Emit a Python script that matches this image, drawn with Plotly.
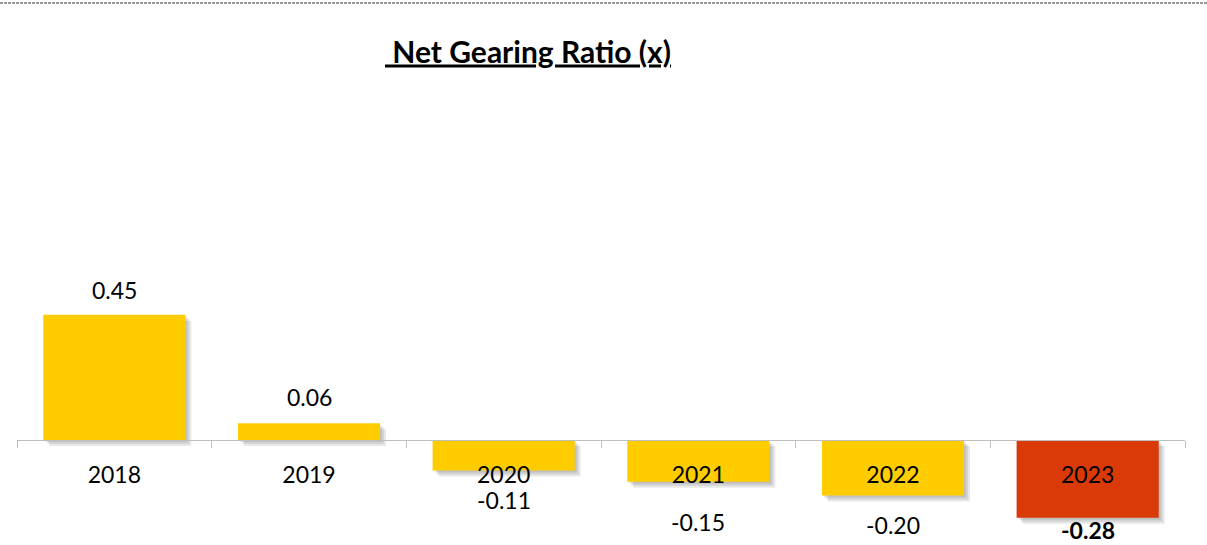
import plotly.graph_objects as go

# Net gearing ratio by year
years = ["2018", "2019", "2020", "2021", "2022", "2023"]
ratios = [0.45, 0.06, -0.11, -0.15, -0.20, -0.28]
bar_colors = ["#FFCC00", "#FFCC00", "#FFCC00", "#FFCC00", "#FFCC00", "#D93A07"]
value_labels = ["0.45", "0.06", "-0.11", "-0.15", "-0.20", "<b>-0.28</b>"]
label_shift_px = [25, 26, -29, -40, -29, -12]

W, H = 1207, 545
MARGIN_L, MARGIN_R, MARGIN_T, MARGIN_B = 17, 22, 90, 0
Y_MIN, Y_MAX = -0.378, 1.259
BAR_WIDTH = 0.73
FONT = "Lato, 'Open Sans', sans-serif"

plot_w = W - MARGIN_L - MARGIN_R
plot_h = H - MARGIN_T - MARGIN_B
px_per_cat = plot_w / len(years)
px_per_unit = plot_h / (Y_MAX - Y_MIN)

fig = go.Figure()

# soft drop shadow: a few translucent copies nudged right and down
for shift in (2, 4, 6):
    fig.add_trace(go.Bar(
        x=years, y=ratios,
        base=[-shift / px_per_unit] * len(years),
        width=BAR_WIDTH,
        offset=-BAR_WIDTH / 2 + shift / px_per_cat,
        marker=dict(color="rgba(0,0,0,0.09)", line=dict(width=0)),
        hoverinfo="skip", showlegend=False,
    ))

fig.add_trace(go.Bar(
    x=years, y=ratios,
    width=BAR_WIDTH, offset=-BAR_WIDTH / 2,
    marker=dict(color=bar_colors, line=dict(width=0)),
    showlegend=False,
))

# value labels; category axis positions are addressed by index
for i, (v, txt, dy) in enumerate(zip(ratios, value_labels, label_shift_px)):
    fig.add_annotation(
        x=i, y=v, yshift=dy, text=txt, showarrow=False,
        xref="x", yref="y",
        xanchor="center", yanchor="middle",
        font=dict(family=FONT, size=23, color="#000000"),
    )

# dashed rule across the top of the page
fig.add_shape(
    type="line", xref="paper", yref="paper",
    x0=-MARGIN_L / plot_w, x1=(W - MARGIN_L) / plot_w,
    y0=(H - MARGIN_B - 3) / plot_h, y1=(H - MARGIN_B - 3) / plot_h,
    line=dict(color="#333333", width=1, dash="3px,1px"),
)

zero_pos = (0 - Y_MIN) / (Y_MAX - Y_MIN)

fig.update_layout(
    width=W, height=H,
    margin=dict(l=MARGIN_L, r=MARGIN_R, t=MARGIN_T, b=MARGIN_B),
    paper_bgcolor="white", plot_bgcolor="white",
    barmode="overlay",
    title=dict(
        text="<b><u>\u00a0Net Gearing Ratio (x)</u></b>",
        x=528 / W, xanchor="center", xref="container",
        y=1 - 52 / H, yanchor="middle", yref="container",
        font=dict(family=FONT, size=30, color="#000000"),
    ),
    xaxis=dict(
        type="category", range=[-0.5, len(years) - 0.5],
        anchor="free", position=zero_pos,
        showline=True, linecolor="#BFBFBF", linewidth=1,
        ticks="outside", tickson="boundaries", ticklen=7,
        tickcolor="#BFBFBF", tickwidth=1,
        tickfont=dict(family=FONT, size=23, color="#000000"),
        ticklabelstandoff=14,
        showgrid=False, zeroline=False, fixedrange=True,
    ),
    yaxis=dict(
        range=[Y_MIN, Y_MAX], visible=False,
        showgrid=False, zeroline=False, fixedrange=True,
    ),
)

fig.write_html("out.html")
